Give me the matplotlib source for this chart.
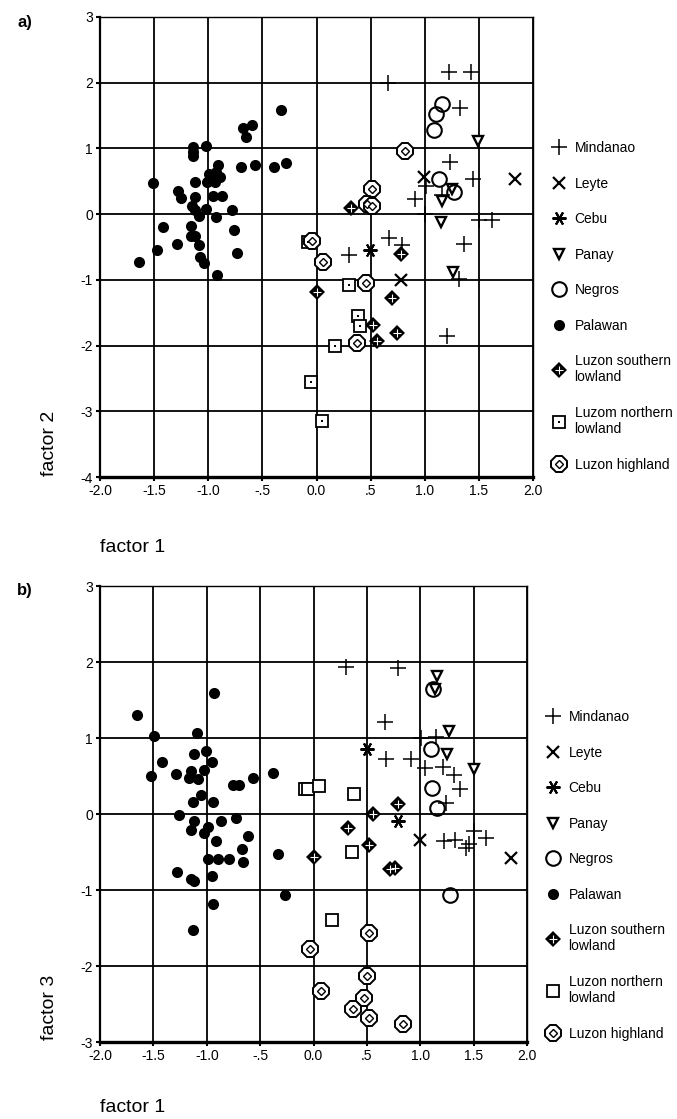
import matplotlib
matplotlib.use("Agg")
import matplotlib.pyplot as plt

plt.rcParams['font.family'] = ['Liberation Sans', 'DejaVu Sans']
plt.rcParams['axes.unicode_minus'] = False

# ---------------- data: panel a (factor 1 vs factor 2) ----------------
a_mindanao_x = [0.66, 1.22, 1.43, 1.33, 1.23, 1.45, 1.01, 0.91, 1.16, 1.00, 1.50, 1.62, 0.67, 0.79, 1.36, 0.30, 1.32, 1.21]
a_mindanao_y = [1.99, 2.16, 2.16, 1.61, 0.79, 0.53, 0.43, 0.23, 0.29, 0.00, -0.09, -0.09, -0.37, -0.47, -0.45, -0.62, -0.99, -1.86]
a_leyte_x = [1.83, 0.99, 0.78]
a_leyte_y = [0.53, 0.56, -1.00]
a_cebu_x = [0.49]
a_cebu_y = [-0.55]
a_panay_x = [1.49, 1.16, 1.25, 1.15, 1.26]
a_panay_y = [1.11, 0.20, 0.38, -0.12, -0.88]
a_negros_x = [1.16, 1.10, 1.09, 1.13, 1.27]
a_negros_y = [1.67, 1.52, 1.28, 0.53, 0.34]
a_palawan_x = [-0.33, -0.68, -0.60, -0.65, -1.14, -1.14, -1.14, -1.02, -0.91, -0.70, -0.57, -0.39, -0.28,
               -1.51, -1.12, -1.01, -0.99, -0.93, -0.89, -0.94, -1.28, -1.25, -1.12, -0.96, -0.87, -1.15,
               -1.12, -1.09, -1.02, -0.93, -0.78, -1.42, -1.16, -0.76, -1.16, -1.12, -1.29, -1.09, -1.64,
               -1.47, -1.08, -1.04, -0.92, -0.73]
a_palawan_y = [1.59, 1.31, 1.36, 1.18, 1.02, 0.94, 0.88, 1.04, 0.75, 0.71, 0.75, 0.71, 0.78,
               0.47, 0.49, 0.49, 0.61, 0.64, 0.56, 0.49, 0.35, 0.24, 0.26, 0.27, 0.27, 0.12,
               0.06, -0.03, 0.08, -0.04, 0.06, -0.20, -0.18, -0.24, -0.34, -0.34, -0.46, -0.47, -0.73,
               -0.55, -0.65, -0.75, -0.93, -0.59]
a_south_x = [0.32, 0.00, 0.78, 0.70, 0.52, 0.56, 0.74]
a_south_y = [0.10, -1.19, -0.61, -1.28, -1.69, -1.93, -1.81]
a_north_x = [-0.08, 0.30, 0.38, 0.40, 0.17, -0.05, 0.05]
a_north_y = [-0.42, -1.08, -1.55, -1.70, -2.01, -2.56, -3.15]
a_high_x = [0.82, 0.51, 0.47, 0.51, -0.04, 0.06, 0.46, 0.37]
a_high_y = [0.96, 0.38, 0.15, 0.12, -0.41, -0.73, -1.05, -1.96]

# ---------------- data: panel b (factor 1 vs factor 3) ----------------
b_mindanao_x = [0.30, 0.79, 0.67, 1.01, 1.15, 0.68, 0.91, 1.04, 1.21, 1.32, 1.37, 1.24, 1.22, 1.33, 1.43, 1.46, 1.50, 1.62]
b_mindanao_y = [1.94, 1.92, 1.21, 1.00, 1.01, 0.72, 0.73, 0.60, 0.62, 0.51, 0.33, 0.14, -0.35, -0.34, -0.45, -0.39, -0.22, -0.31]
b_leyte_x = [1.00, 1.85]
b_leyte_y = [-0.34, -0.58]
b_cebu_x = [0.50, 0.79]
b_cebu_y = [0.85, -0.09]
b_panay_x = [1.16, 1.14, 1.27, 1.25, 1.50]
b_panay_y = [1.82, 1.65, 1.09, 0.79, 0.59]
b_negros_x = [1.12, 1.10, 1.11, 1.16, 1.28]
b_negros_y = [1.65, 0.85, 0.34, 0.08, -1.07]
b_palawan_x = [-1.65, -0.93, -1.49, -1.09, -1.01, -1.12, -1.42, -0.95, -0.38, -0.57, -1.52, -1.29, -1.17, -1.08,
               -1.03, -1.15, -0.75, -0.70, -1.13, -1.05, -0.94, -1.26, -1.12, -0.87, -0.73, -1.15, -1.03, -0.99,
               -0.91, -0.61, -0.67, -0.99, -0.89, -0.79, -0.66, -0.33, -1.28, -1.15, -1.12, -0.95, -0.27, -0.94, -1.13]
b_palawan_y = [1.30, 1.59, 1.02, 1.06, 0.83, 0.79, 0.69, 0.69, 0.54, 0.47, 0.50, 0.52, 0.47, 0.46,
               0.58, 0.56, 0.38, 0.38, 0.16, 0.25, 0.16, -0.01, -0.09, -0.09, -0.05, -0.21, -0.25, -0.17,
               -0.35, -0.29, -0.46, -0.59, -0.59, -0.59, -0.63, -0.52, -0.76, -0.86, -0.88, -0.82, -1.07, -1.18, -1.53]
b_south_x = [0.00, 0.79, 0.56, 0.32, 0.52, 0.72, 0.76]
b_south_y = [-0.57, 0.13, 0.00, -0.18, -0.41, -0.72, -0.71]
b_north_x = [-0.08, -0.05, 0.05, 0.38, 0.36, 0.17]
b_north_y = [0.33, 0.33, 0.37, 0.26, -0.50, -1.39]
b_high_x = [-0.03, 0.07, 0.52, 0.50, 0.47, 0.37, 0.52, 0.84]
b_high_y = [-1.77, -2.33, -1.56, -2.13, -2.42, -2.56, -2.69, -2.76]

x_ticks = [-2.0, -1.5, -1.0, -0.5, 0.0, 0.5, 1.0, 1.5, 2.0]
x_ticklabels = ["-2.0", "-1.5", "-1.0", "-.5", "0.0", ".5", "1.0", "1.5", "2.0"]
a_yticks = [-4, -3, -2, -1, 0, 1, 2, 3]
b_yticks = [-3, -2, -1, 0, 1, 2, 3]

labels_a = ["Mindanao", "Leyte", "Cebu", "Panay", "Negros", "Palawan",
            "Luzon southern\nlowland", "Luzom northern\nlowland", "Luzon highland"]
labels_b = ["Mindanao", "Leyte", "Cebu", "Panay", "Negros", "Palawan",
            "Luzon southern\nlowland", "Luzon northern\nlowland", "Luzon highland"]

W, H = 677, 1119
fig = plt.figure(figsize=(W / 100, H / 100), dpi=100)


def fx(px):
    return px / W


def fy(py):
    return 1 - py / H


K = 'black'


def draw_panel(ax, d, north_dot, yticks, ylim):
    (mx, my, lx, ly, cx, cy, px_, py_, nx, ny, pax, pay, sx, sy, nox, noy, hx, hy) = d
    ax.set_xlim(-2, 2)
    ax.set_ylim(*ylim)
    ax.set_xticks(x_ticks)
    ax.set_xticklabels(x_ticklabels)
    ax.set_yticks(yticks)
    ax.grid(True, color=K, lw=1.3)
    ax.set_axisbelow(True)
    for s in ['top', 'right']:
        ax.spines[s].set_linewidth(1.0)
    ax.spines['left'].set_linewidth(1.6)
    ax.spines['bottom'].set_linewidth(2.4)
    ax.tick_params(axis='both', direction='out', length=3, width=1.5, labelsize=10, pad=2, color=K)

    h = []
    h.append(ax.plot(mx, my, ls='none', marker='+', ms=11, mew=1.1, color=K, zorder=5)[0])
    h.append(ax.plot(lx, ly, ls='none', marker='x', ms=8, mew=1.6, color=K, zorder=5)[0])
    h.append(ax.plot(cx, cy, ls='none', marker=(6, 2, 90), ms=10, mew=1.5, color=K, zorder=5)[0])
    h.append(ax.plot(px_, py_, ls='none', marker='v', ms=7.5, mew=1.7, mfc='white', mec=K, zorder=5)[0])
    h.append(ax.plot(nx, ny, ls='none', marker='o', ms=10.5, mew=1.5, mfc='none', mec=K, zorder=5)[0])
    h.append(ax.plot(pax, pay, ls='none', marker='o', ms=8, mew=0, color=K, zorder=4)[0])
    s1 = ax.plot(sx, sy, ls='none', marker='D', ms=8, mew=0, color=K, zorder=5)[0]
    s2 = ax.plot(sx, sy, ls='none', marker='+', ms=6, mew=0.8, color='white', zorder=6)[0]
    h.append((s1, s2))
    n1 = ax.plot(nox, noy, ls='none', marker='s', ms=8, mew=1.3, mfc='white', mec=K, zorder=5)[0]
    if north_dot:
        n2 = ax.plot(nox, noy, ls='none', marker='s', ms=1.8, mew=0, color=K, zorder=6)[0]
        h.append((n1, n2))
    else:
        h.append(n1)
    h1 = ax.plot(hx, hy, ls='none', marker='8', ms=13, mew=1.4, mfc='white', mec=K, zorder=5)[0]
    h2 = ax.plot(hx, hy, ls='none', marker='D', ms=4, mew=1.0, mfc='white', mec=K, zorder=6)[0]
    h.append((h1, h2))
    return h


axa = fig.add_axes([fx(100), fy(477), fx(533) - fx(100), fy(17) - fy(477)])
ha = draw_panel(axa, (a_mindanao_x, a_mindanao_y, a_leyte_x, a_leyte_y, a_cebu_x, a_cebu_y,
                      a_panay_x, a_panay_y, a_negros_x, a_negros_y, a_palawan_x, a_palawan_y,
                      a_south_x, a_south_y, a_north_x, a_north_y, a_high_x, a_high_y),
                True, a_yticks, (-4, 3))

axb = fig.add_axes([fx(100), fy(1042), fx(527) - fx(100), fy(586) - fy(1042)])
hb = draw_panel(axb, (b_mindanao_x, b_mindanao_y, b_leyte_x, b_leyte_y, b_cebu_x, b_cebu_y,
                      b_panay_x, b_panay_y, b_negros_x, b_negros_y, b_palawan_x, b_palawan_y,
                      b_south_x, b_south_y, b_north_x, b_north_y, b_high_x, b_high_y),
                False, b_yticks, (-3, 3))

leg_kw = dict(frameon=False, fontsize=10, handlelength=1.2, handletextpad=0.5,
              borderpad=0, borderaxespad=0, labelspacing=1.55, loc='upper left',
              bbox_transform=fig.transFigure)
fig.legend(ha, labels_a, bbox_to_anchor=(fx(551), fy(141)), **leg_kw)
fig.legend(hb, labels_b, bbox_to_anchor=(fx(545), fy(710)), **leg_kw)

fig.text(fx(17), fy(22), "a)", fontsize=12, fontweight='bold', va='center', ha='left')
fig.text(fx(17), fy(590), "b)", fontsize=12, fontweight='bold', va='center', ha='left')
fig.text(fx(50), fy(443), "factor 2", fontsize=14, rotation=90, va='center', ha='center')
fig.text(fx(50), fy(1007), "factor 3", fontsize=14, rotation=90, va='center', ha='center')
fig.text(fx(100), fy(548), "factor 1", fontsize=14, va='center', ha='left')
fig.text(fx(100), fy(1108), "factor 1", fontsize=14, va='center', ha='left')

fig.savefig("out.png", dpi=100)
